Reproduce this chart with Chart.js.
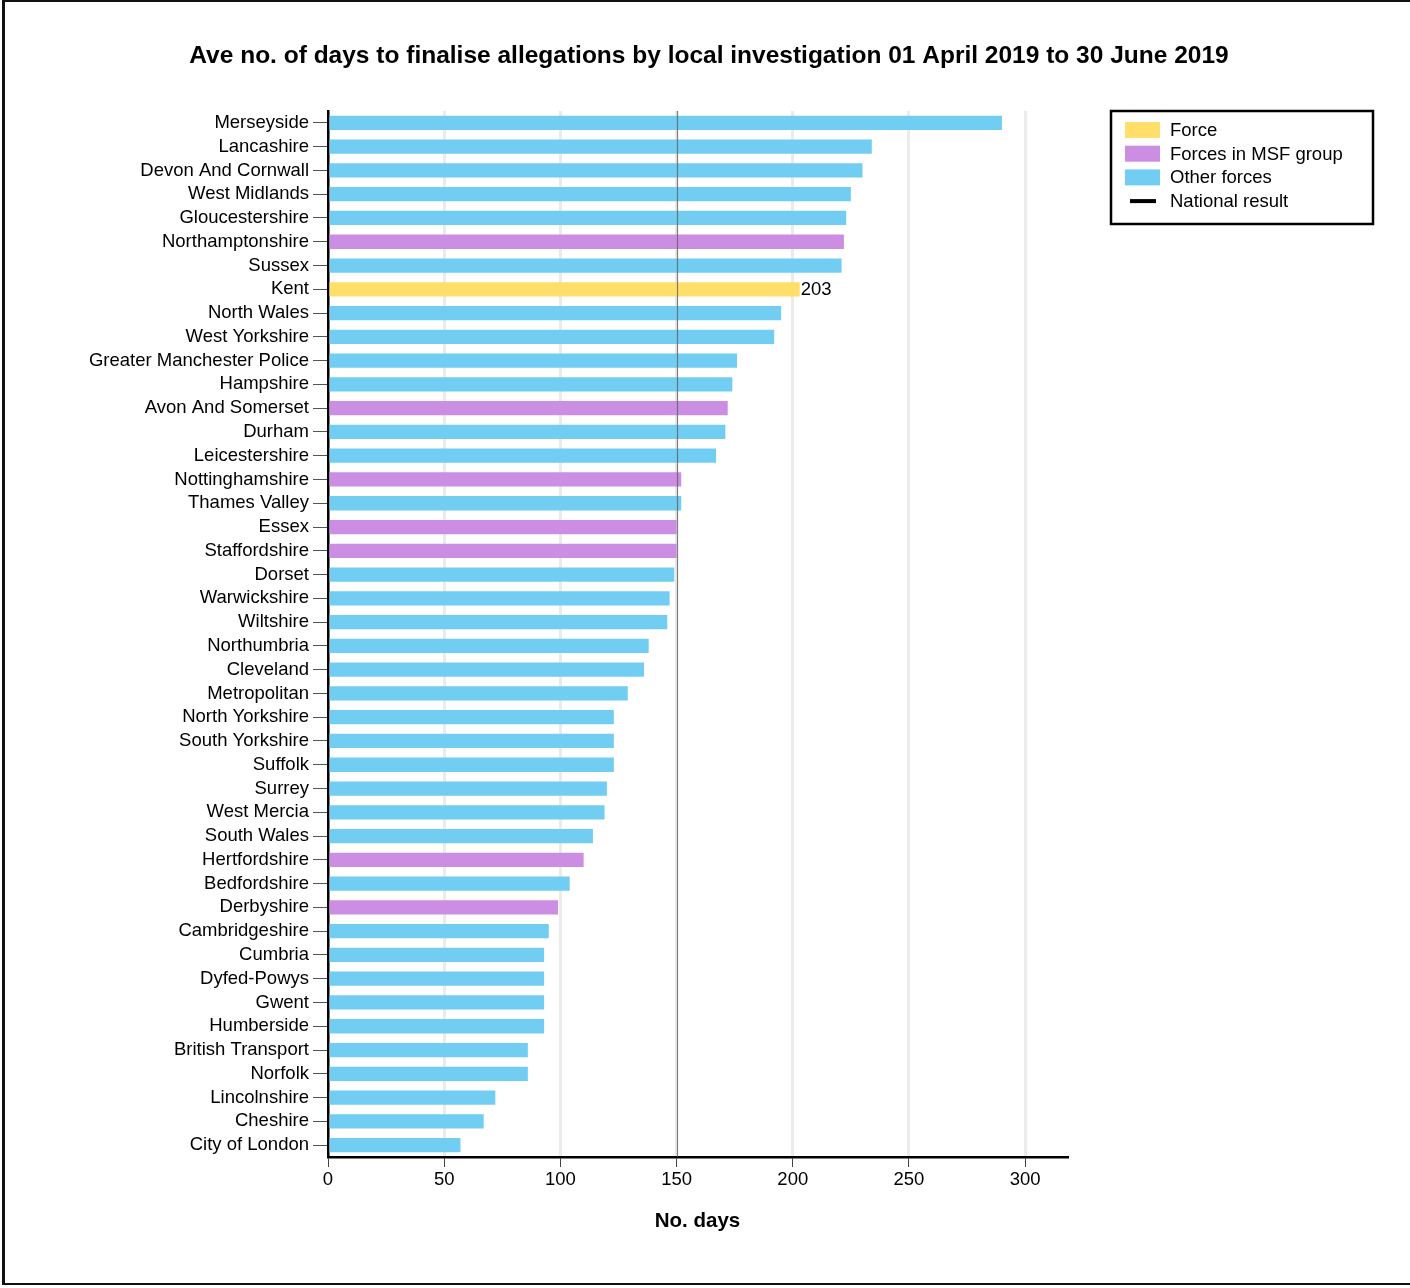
<!DOCTYPE html>
<html>
<head>
<meta charset="utf-8">
<script src="https://cdn.jsdelivr.net/npm/chart.js@4/dist/chart.umd.min.js"></script>
<style>
  html, body { margin: 0; padding: 0; background: #fff; }
  .frame { position: absolute; left: 2px; top: 0; width: 1420px; height: 1285px;
           border-left: 3px solid #111; border-top: 2px solid #111; border-bottom: 2px solid #111; box-sizing: border-box; }
  #wrap { position: absolute; left: 0; top: 0; width: 1410px; height: 1288px; }
</style>
</head>
<body>
<div class="frame"></div>
<div id="wrap"><canvas id="daysChart" width="1410" height="1288"></canvas></div>
<script>
var forces = ['Merseyside', 'Lancashire', 'Devon And Cornwall', 'West Midlands', 'Gloucestershire',
  'Northamptonshire', 'Sussex', 'Kent', 'North Wales', 'West Yorkshire', 'Greater Manchester Police',
  'Hampshire', 'Avon And Somerset', 'Durham', 'Leicestershire', 'Nottinghamshire', 'Thames Valley',
  'Essex', 'Staffordshire', 'Dorset', 'Warwickshire', 'Wiltshire', 'Northumbria', 'Cleveland',
  'Metropolitan', 'North Yorkshire', 'South Yorkshire', 'Suffolk', 'Surrey', 'West Mercia',
  'South Wales', 'Hertfordshire', 'Bedfordshire', 'Derbyshire', 'Cambridgeshire', 'Cumbria',
  'Dyfed-Powys', 'Gwent', 'Humberside', 'British Transport', 'Norfolk', 'Lincolnshire', 'Cheshire',
  'City of London'];

var avgDays = [290, 234, 230, 225, 223, 222, 221, 203, 195, 192, 176, 174, 172, 171, 167, 152, 152,
  150, 150, 149, 147, 146, 138, 136, 129, 123, 123, 123, 120, 119, 114, 110, 104, 99, 95, 93, 93,
  93, 93, 86, 86, 72, 67, 57];

// 'force' = selected force, 'msf' = most similar forces group, 'other' = everyone else
var groups = ['other', 'other', 'other', 'other', 'other', 'msf', 'other', 'force', 'other', 'other',
  'other', 'other', 'msf', 'other', 'other', 'msf', 'other', 'msf', 'msf', 'other', 'other', 'other',
  'other', 'other', 'other', 'other', 'other', 'other', 'other', 'other', 'other', 'msf', 'other',
  'msf', 'other', 'other', 'other', 'other', 'other', 'other', 'other', 'other', 'other', 'other'];

var nationalResult = 150;
var xTicks = [0, 50, 100, 150, 200, 250, 300];

var groupColours = { force: '#FFDF6A', msf: '#CC8EE3', other: '#72CDF2' };
var legendItems = [
  { label: 'Force', colour: groupColours.force },
  { label: 'Forces in MSF group', colour: groupColours.msf },
  { label: 'Other forces', colour: groupColours.other },
  { label: 'National result', line: true }
];

var FONT = 'Arial, "Liberation Sans", sans-serif';

var extras = {
  id: 'extras',
  afterDatasetsDraw: function(chart) {
    var ctx = chart.ctx;
    var xs = chart.scales.x;
    var area = chart.chartArea;

    // national result line
    var nx = Math.round(xs.getPixelForValue(nationalResult)) + 0.5;
    ctx.save();
    ctx.strokeStyle = 'rgba(90,90,90,0.75)';
    ctx.lineWidth = 1.2;
    ctx.beginPath();
    ctx.moveTo(nx, area.top);
    ctx.lineTo(nx, area.bottom);
    ctx.stroke();

    // value label for the force
    var meta = chart.getDatasetMeta(0);
    ctx.fillStyle = '#000';
    ctx.font = '18.5px ' + FONT;
    ctx.textAlign = 'left';
    ctx.textBaseline = 'middle';
    groups.forEach(function(g, i) {
      if (g === 'force') {
        var bar = meta.data[i];
        ctx.fillText(String(avgDays[i]), bar.x + 1, bar.y + 1);
      }
    });

    // title
    ctx.font = 'bold 24.5px ' + FONT;
    ctx.textAlign = 'center';
    ctx.fillText('Ave no. of days to finalise allegations by local investigation 01 April 2019 to 30 June 2019', 709, 56);

    // legend
    var lx = 1111, ly = 111, lw = 262, lh = 113;
    ctx.strokeStyle = '#000';
    ctx.lineWidth = 2.5;
    ctx.strokeRect(lx, ly, lw, lh);
    ctx.font = '18.5px ' + FONT;
    ctx.textAlign = 'left';
    legendItems.forEach(function(item, i) {
      var cy = 130 + i * 23.7;
      if (item.line) {
        ctx.fillStyle = '#000';
        ctx.fillRect(1130, cy - 2, 26, 4);
      } else {
        ctx.fillStyle = item.colour;
        ctx.fillRect(1125, cy - 8, 35, 16);
      }
      ctx.fillStyle = '#000';
      ctx.fillText(item.label, 1170, cy + 1);
    });
    ctx.restore();
  }
};

var chart = new Chart(document.getElementById('daysChart'), {
  type: 'bar',
  data: {
    labels: forces,
    datasets: [{
      data: avgDays,
      backgroundColor: groups.map(function(g) { return groupColours[g]; }),
      borderWidth: 0,
      barPercentage: 0.6,
      categoryPercentage: 1
    }]
  },
  options: {
    indexAxis: 'y',
    responsive: false,
    animation: false,
    devicePixelRatio: 1,
    layout: { padding: { left: 0, right: 343, top: 111, bottom: 0 } },
    plugins: {
      legend: { display: false },
      tooltip: { enabled: false },
      title: { display: false }
    },
    scales: {
      x: {
        min: 0,
        max: 318,
        afterBuildTicks: function(scale) {
          scale.ticks = xTicks.map(function(v) { return { value: v }; });
        },
        afterFit: function(scale) { scale.height = 131; },
        grid: { color: '#ebebeb', lineWidth: 3, tickLength: 10, tickColor: '#444', tickWidth: 1 },
        border: { color: '#000', width: 2.5 },
        ticks: { color: '#000', font: { family: FONT, size: 18.5 }, padding: 2 },
        title: { display: true, text: 'No. days', color: '#000',
                 font: { family: FONT, size: 20.5, weight: 'bold' }, padding: { top: 0, bottom: 54 } }
      },
      y: {
        afterFit: function(scale) { scale.width = 328; },
        grid: { offset: false, drawOnChartArea: false, drawTicks: true, tickLength: 15, tickColor: '#555', tickWidth: 1 },
        border: { color: '#000', width: 2.5 },
        ticks: { color: '#000', font: { family: FONT, size: 18.5 }, padding: 4, autoSkip: false }
      }
    }
  },
  plugins: [extras]
});
</script>
</body>
</html>
